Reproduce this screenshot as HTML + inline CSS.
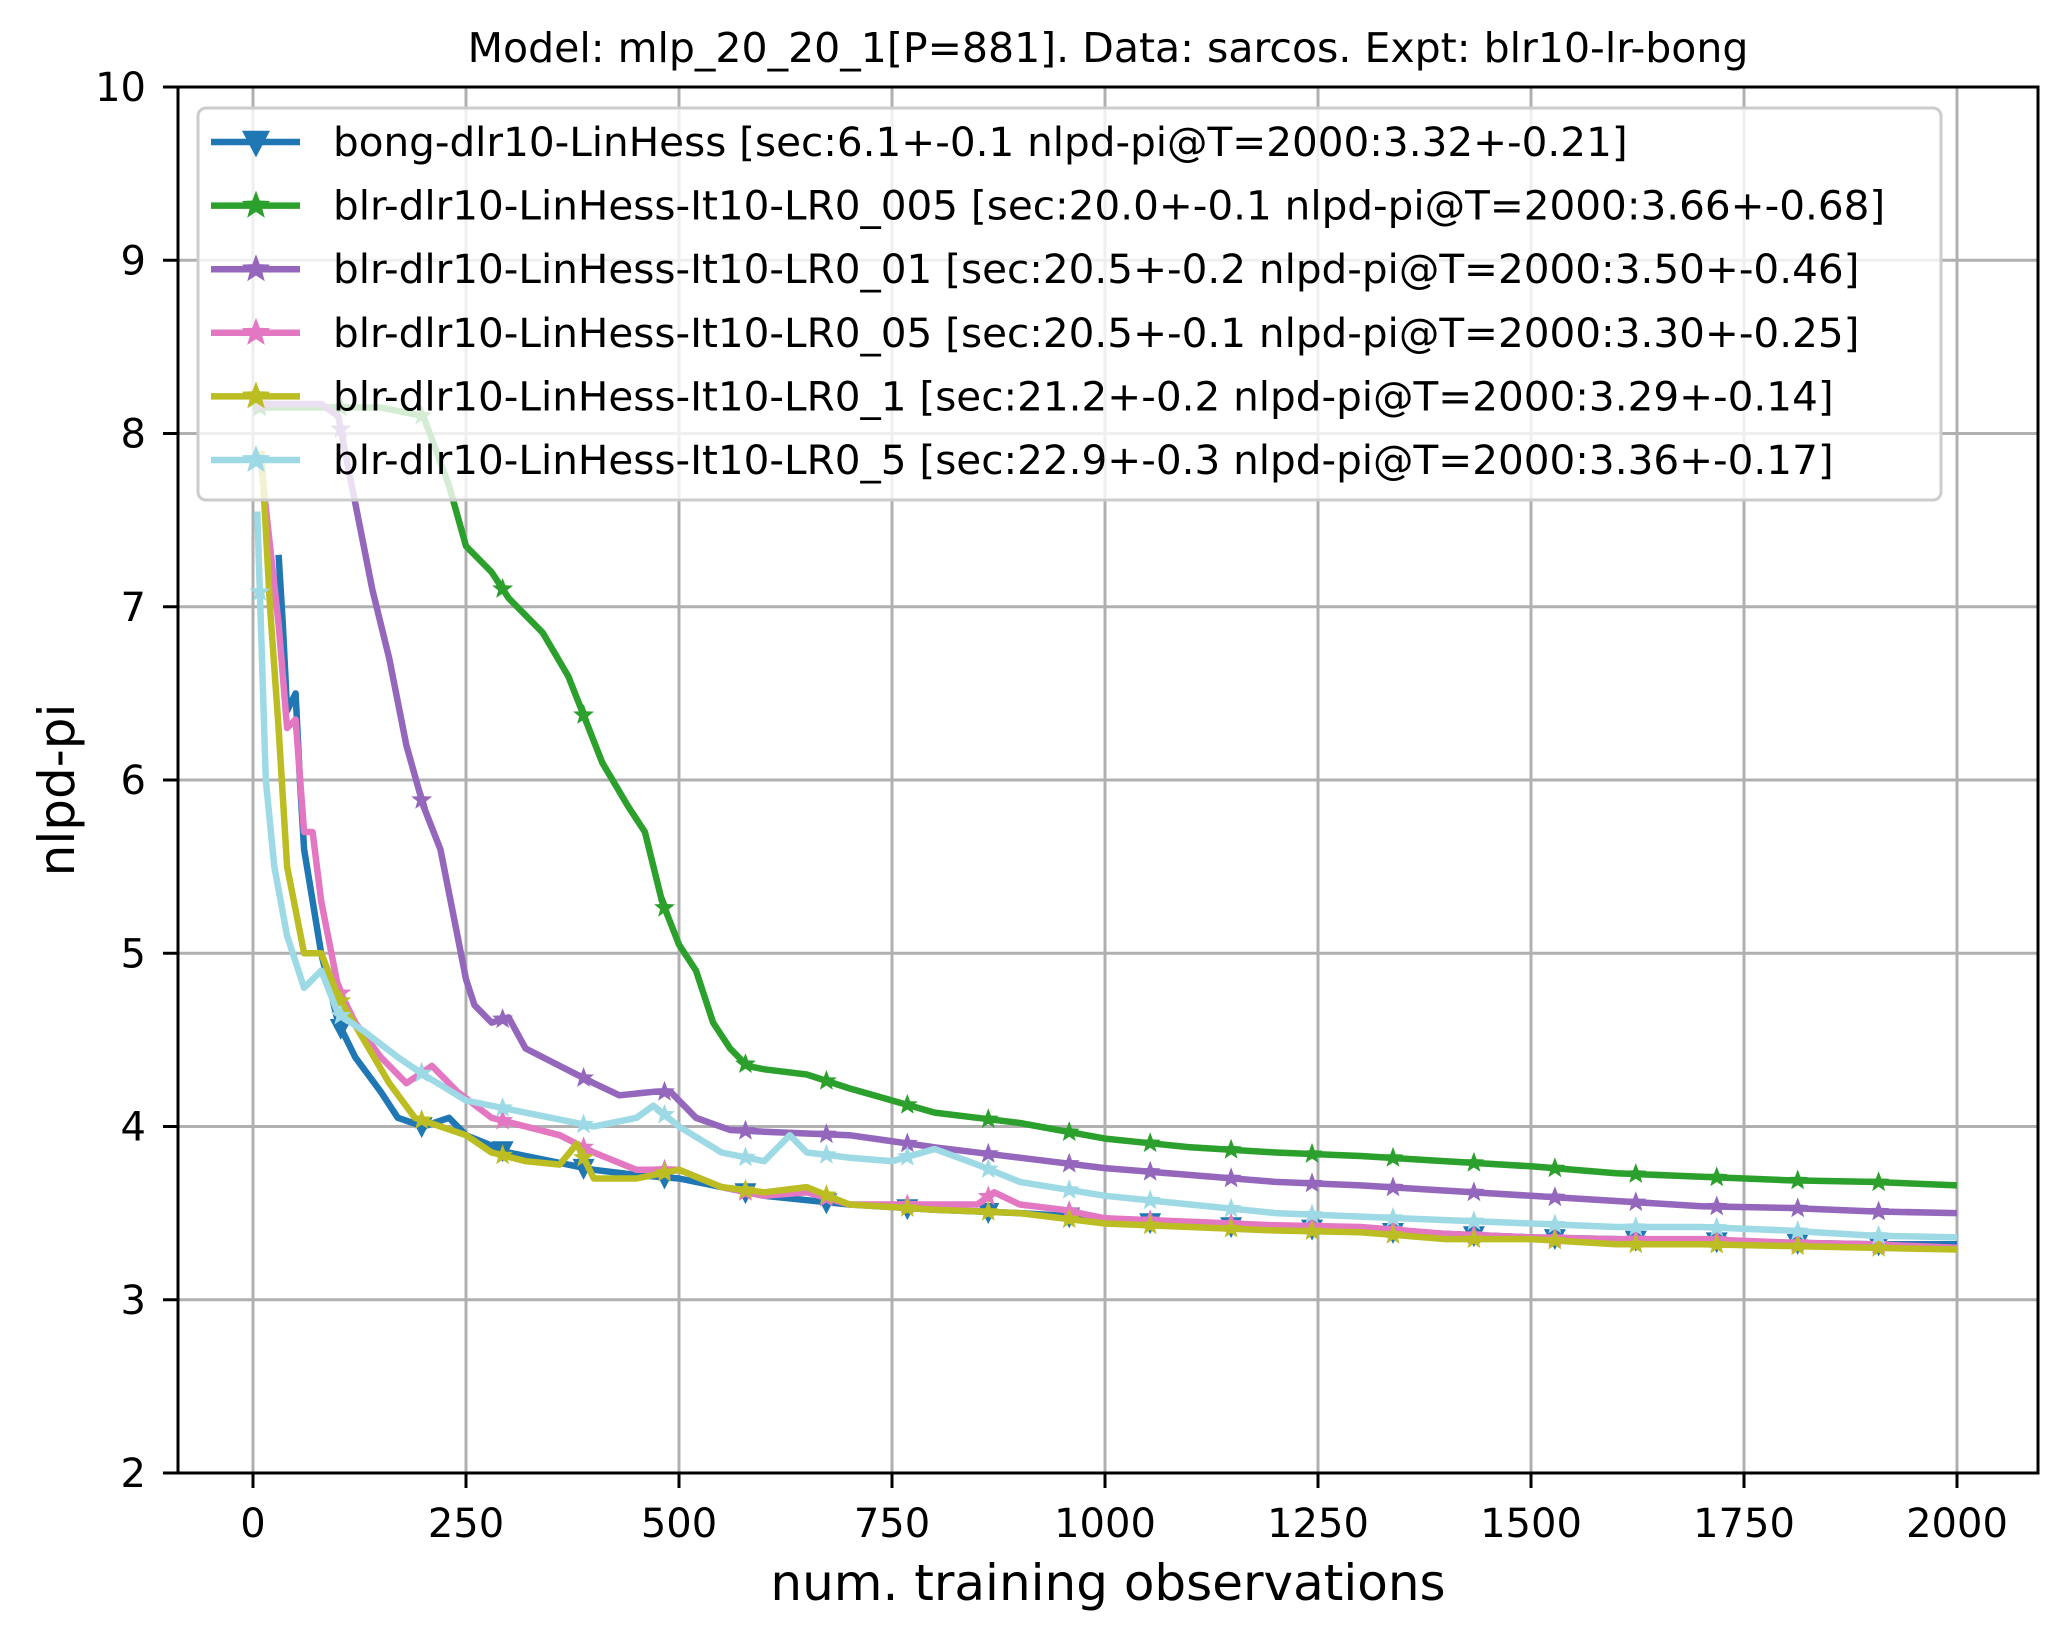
<!DOCTYPE html>
<html><head><meta charset="utf-8"><style>
html,body{margin:0;padding:0;background:#fff;}
svg{display:block;font-family:"DejaVu Sans","Liberation Sans",sans-serif;}
</style></head><body>
<svg id="chart" width="2066" height="1639" viewBox="0 0 2066 1639" xmlns="http://www.w3.org/2000/svg">
<rect x="0" y="0" width="2066" height="1639" fill="#fff"/>
<g id="grid"></g>
<g id="series"></g>
<g id="axes"></g>
<g id="legend"></g>
<text x="1108" y="62" font-size="41" text-anchor="middle">Model: mlp_20_20_1[P=881]. Data: sarcos. Expt: blr10-lr-bong</text>
<text x="1108" y="1600" font-size="50" text-anchor="middle">num. training observations</text>
<text x="0" y="0" font-size="50" text-anchor="middle" transform="translate(74,790) rotate(-90)">nlpd-pi</text>
</svg>
<script>
const xTicks=[0,250,500,750,1000,1250,1500,1750,2000];
const yTicks=[2,3,4,5,6,7,8,9,10];
const seriesNames=["bong-dlr10-LinHess [sec:6.1+-0.1 nlpd-pi@T=2000:3.32+-0.21]","blr-dlr10-LinHess-It10-LR0_005 [sec:20.0+-0.1 nlpd-pi@T=2000:3.66+-0.68]","blr-dlr10-LinHess-It10-LR0_01 [sec:20.5+-0.2 nlpd-pi@T=2000:3.50+-0.46]","blr-dlr10-LinHess-It10-LR0_05 [sec:20.5+-0.1 nlpd-pi@T=2000:3.30+-0.25]","blr-dlr10-LinHess-It10-LR0_1 [sec:21.2+-0.2 nlpd-pi@T=2000:3.29+-0.14]","blr-dlr10-LinHess-It10-LR0_5 [sec:22.9+-0.3 nlpd-pi@T=2000:3.36+-0.17]"];
const seriesColors=["#1f77b4","#2ca02c","#9467bd","#e377c2","#bcbd22","#9edae5"];
const blueX=[30,35,40,50,55,60,80,100,120,150,170,200,230,250,300,350,400,450,500,550,600,700,800,900,1000,1100,1200,1300,1400,1500,1600,1700,1800,1900,2000];
const blueY=[7.3,6.9,6.4,6.5,6.0,5.6,5.0,4.6,4.4,4.2,4.05,4.0,4.05,3.95,3.85,3.8,3.75,3.72,3.7,3.65,3.6,3.55,3.52,3.5,3.47,3.43,3.42,3.4,3.38,3.36,3.35,3.34,3.33,3.32,3.32];
const greenX=[0,150,200,230,250,280,300,340,370,390,410,440,460,480,500,520,540,560,580,600,650,700,750,800,850,900,1000,1100,1200,1300,1400,1500,1600,1700,1800,1900,2000];
const greenY=[8.15,8.15,8.1,7.7,7.35,7.2,7.05,6.85,6.6,6.35,6.1,5.85,5.7,5.3,5.05,4.9,4.6,4.45,4.35,4.33,4.3,4.22,4.15,4.08,4.05,4.02,3.93,3.88,3.85,3.83,3.8,3.77,3.73,3.71,3.69,3.68,3.66];
const purpleX=[5,80,100,120,140,160,180,200,220,240,250,260,280,300,320,360,400,430,470,490,520,560,600,700,800,900,1000,1100,1200,1300,1400,1500,1600,1700,1800,1900,2000];
const purpleY=[8.17,8.17,8.1,7.6,7.1,6.7,6.2,5.85,5.6,5.1,4.85,4.7,4.6,4.63,4.45,4.35,4.25,4.18,4.2,4.2,4.05,3.98,3.97,3.95,3.88,3.82,3.76,3.72,3.68,3.66,3.63,3.6,3.57,3.54,3.53,3.51,3.5];
const pinkX=[10,30,40,50,60,70,80,100,120,150,180,210,240,280,320,360,400,450,500,550,600,650,700,750,800,850,870,900,950,1000,1100,1200,1300,1400,1500,1600,1700,1800,1900,2000];
const pinkY=[7.8,6.9,6.3,6.35,5.7,5.7,5.3,4.8,4.6,4.4,4.25,4.35,4.2,4.05,4.0,3.95,3.85,3.75,3.75,3.65,3.6,3.62,3.55,3.55,3.55,3.55,3.62,3.55,3.52,3.47,3.45,3.43,3.42,3.38,3.36,3.35,3.35,3.33,3.32,3.3];
const oliveX=[10,20,30,40,60,80,100,130,160,190,220,250,280,320,360,380,400,450,500,550,600,650,700,800,900,1000,1100,1200,1300,1400,1500,1600,1700,1800,1900,2000];
const oliveY=[7.9,7.0,6.3,5.5,5.0,5.0,4.75,4.5,4.25,4.05,4.0,3.95,3.85,3.8,3.78,3.9,3.7,3.7,3.75,3.65,3.62,3.65,3.55,3.52,3.5,3.44,3.42,3.4,3.39,3.35,3.35,3.32,3.32,3.31,3.3,3.29];
const cyanX=[5,15,25,40,60,80,100,130,170,200,250,300,350,400,450,470,500,550,600,630,650,700,750,800,850,900,1000,1100,1200,1300,1400,1500,1600,1700,1800,1900,2000];
const cyanY=[7.55,6.0,5.5,5.1,4.8,4.9,4.65,4.55,4.4,4.3,4.15,4.1,4.05,4.0,4.05,4.12,4.0,3.85,3.8,3.95,3.85,3.82,3.8,3.87,3.78,3.68,3.6,3.55,3.5,3.48,3.46,3.44,3.42,3.42,3.4,3.37,3.36];

const NS="http://www.w3.org/2000/svg";
const L=178,R=2038,T=87,B=1473;
const X0=253,X2000=1957;
function xs(v){return X0+(v/2000)*(X2000-X0);}
function ys(v){return B-(v-2)/8*(B-T);}
function el(tag,attrs,parent){const e=document.createElementNS(NS,tag);for(const k in attrs)e.setAttribute(k,attrs[k]);parent.appendChild(e);return e;}
const grid=document.getElementById('grid'),axes=document.getElementById('axes'),ser=document.getElementById('series'),leg=document.getElementById('legend');

xTicks.forEach(t=>{
  const g=el('line',{x1:xs(t),x2:xs(t),y1:T,y2:B,stroke:'#b0b0b0','stroke-width':3},grid);
  
  
  const tk=el('line',{x1:xs(t),x2:xs(t),y1:B,y2:B+15,stroke:'#000','stroke-width':3},axes);
  
  
  const tx=el('text',{x:xs(t),y:B+64,'font-size':40,'text-anchor':'middle'},axes);
  tx.textContent=t;
  
  
});
yTicks.forEach(t=>{
  const g=el('line',{x1:L,x2:R,y1:ys(t),y2:ys(t),stroke:'#b0b0b0','stroke-width':3},grid);
  
  
  const tk=el('line',{x1:L-15,x2:L,y1:ys(t),y2:ys(t),stroke:'#000','stroke-width':3},axes);
  
  
  const tx=el('text',{x:L-32,y:ys(t)+14,'font-size':40,'text-anchor':'end'},axes);
  tx.textContent=t;
  
  
});
const frame=el('rect',{x:L,y:T,width:R-L,height:B-T,fill:'none',stroke:'#000','stroke-width':3},axes);



function starPts(cx,cy,r){let p=[];for(let i=0;i<10;i++){const a=-Math.PI/2+i*Math.PI/5;const rr=i%2?r*0.42:r;p.push((cx+rr*Math.cos(a)).toFixed(1)+','+(cy+rr*Math.sin(a)).toFixed(1));}return p.join(' ');}
function triPts(cx,cy,r){return [(cx-r)+','+(cy-r*0.8),(cx+r)+','+(cy-r*0.8),cx+','+(cy+r*1.1)].join(' ');}
function marker(kind,cx,cy,r,color,parent){
  if(kind==='tri')return el('polygon',{points:triPts(cx,cy,r),fill:color},parent);
  return el('polygon',{points:starPts(cx,cy,r),fill:color},parent);
}
function interp(xa,ya,x){for(let i=1;i<xa.length;i++){if(x<=xa[i]){const f=(x-xa[i-1])/(xa[i]-xa[i-1]);return ya[i-1]+f*(ya[i]-ya[i-1]);}}return ya[ya.length-1];}

const allX=[blueX,greenX,purpleX,pinkX,oliveX,cyanX];
const allY=[blueY,greenY,purpleY,pinkY,oliveY,cyanY];
const kinds=['tri','star','star','star','star','star'];
for(let s=0;s<6;s++){
  const xa=allX[s],ya=allY[s];
  const d=xa.map((x,i)=>(i?'L':'M')+xs(x).toFixed(1)+','+ys(ya[i]).toFixed(1)).join(' ');
  const p=el('path',{d:d,fill:'none',stroke:seriesColors[s],'stroke-width':6.5,'stroke-linejoin':'round'},ser);
  
  
  for(let mx=8;mx<=2000;mx+=95){
    if(mx<xa[0])continue;
    const m=marker(kinds[s],xs(mx),ys(interp(xa,ya,mx)),11,seriesColors[s],ser);
    
    
  }
}
const box=el('rect',{x:198,y:108,width:1743,height:392,rx:8,fill:'#fff','fill-opacity':0.8,stroke:'#cccccc','stroke-width':3},leg);


for(let s=0;s<6;s++){
  const cy=142+s*63.6;
  const g=el('g',{},leg);
  
  
  el('line',{x1:211,x2:300,y1:cy,y2:cy,stroke:seriesColors[s],'stroke-width':6.5},g);
  marker(kinds[s],256,cy,kinds[s]==='tri'?14:15,seriesColors[s],g);
  const t=el('text',{x:333,y:cy+14,'font-size':40.5},g);
  t.textContent=seriesNames[s];
}
</script>
</body></html>
